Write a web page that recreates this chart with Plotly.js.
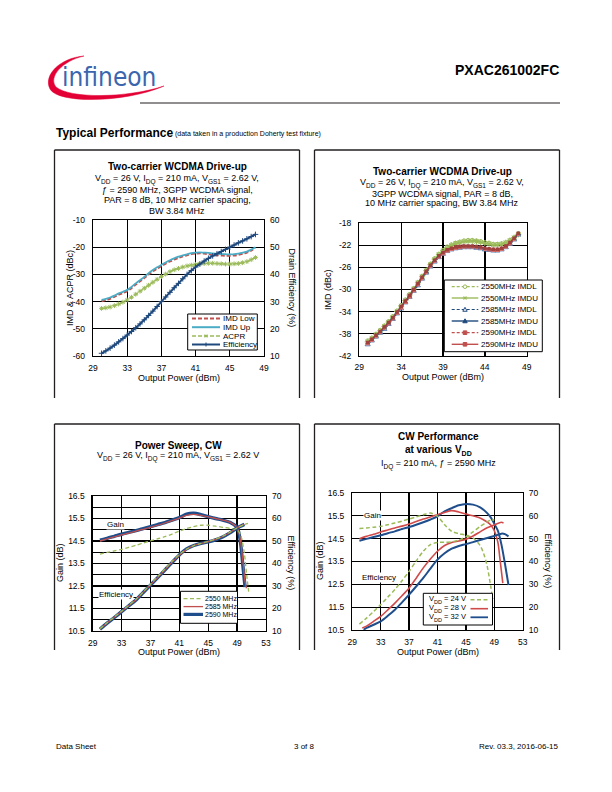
<!DOCTYPE html>
<html><head><meta charset="utf-8">
<script src="https://cdn.plot.ly/plotly-3.0.1.min.js"></script>
<style>html,body{margin:0;padding:0;background:#fff}#chart{width:612px;height:792px}</style>
</head><body><div id="chart"></div>
<script>
// ---------- Chart 1: Two-carrier WCDMA drive-up (IMD / ACPR / Efficiency) ----------
const power1 = [30,30.5,31,31.5,32,32.5,33,33.5,34,34.5,35,35.5,36,36.5,37,37.5,38,38.5,39,39.5,40,40.5,41,41.5,42,42.5,43,43.5,44,44.5,45,45.5,46,46.5,47,47.5,48];
const imdLow1 = [-39.8,-39.4,-38.9,-38.2,-37.4,-36.8,-36.1,-35.0,-33.7,-32.5,-31.3,-30.0,-28.8,-27.8,-26.9,-26.0,-25.2,-24.5,-23.9,-23.3,-22.9,-22.5,-22.3,-22.2,-22.3,-22.5,-22.7,-22.9,-23.0,-23.1,-23.1,-23.0,-22.8,-22.4,-21.9,-21.2,-20.3];
const imdUp1 = [-39.4,-39.0,-38.5,-37.8,-37.0,-36.4,-35.7,-34.6,-33.3,-32.1,-30.9,-29.6,-28.4,-27.4,-26.5,-25.6,-24.8,-24.1,-23.5,-23.0,-22.6,-22.2,-22.0,-21.9,-22.0,-22.1,-22.3,-22.4,-22.5,-22.6,-22.6,-22.6,-22.4,-22.0,-21.6,-20.9,-20.0];
const acpr1 = [-42.5,-42.3,-42.0,-41.5,-40.9,-40.2,-39.4,-38.4,-37.3,-36.2,-35.1,-34.0,-32.9,-31.8,-30.8,-29.9,-29.0,-28.3,-27.8,-27.3,-26.9,-26.6,-26.3,-26.1,-26.0,-25.9,-25.9,-26.0,-26.1,-26.2,-26.2,-26.1,-26.0,-25.7,-25.3,-24.6,-23.8];
const eff1 = [11.0,11.9,12.9,14.0,15.2,16.4,17.7,19.0,20.4,21.8,23.3,24.9,26.5,28.2,30.0,31.7,33.4,35.1,36.7,38.4,40.0,41.4,42.7,43.8,44.9,45.9,46.8,47.6,48.4,49.2,50.0,50.8,51.6,52.3,53.1,53.9,54.7];

// ---------- Chart 2: IMD at three frequencies ----------
const power2 = [30,30.5,31,31.5,32,32.5,33,33.5,34,34.5,35,35.5,36,36.5,37,37.5,38,38.5,39,39.5,40,40.5,41,41.5,42,42.5,43,43.5,44,44.5,45,45.5,46,46.5,47,47.5,48];
const imdl2550 = [-39.3,-38.8,-38.1,-37.4,-36.6,-35.8,-34.9,-33.9,-32.9,-31.9,-30.9,-29.8,-28.7,-27.6,-26.5,-25.4,-24.4,-23.6,-22.9,-22.3,-21.9,-21.6,-21.4,-21.2,-21.1,-21.1,-21.2,-21.3,-21.5,-21.6,-21.8,-21.8,-21.7,-21.5,-21.1,-20.6,-19.9];
const imdu2550 = [-39.5,-38.9,-38.2,-37.5,-36.7,-35.9,-35.0,-34.0,-33.0,-32.0,-31.0,-29.9,-28.8,-27.7,-26.6,-25.5,-24.5,-23.7,-23.0,-22.4,-22.0,-21.7,-21.5,-21.3,-21.2,-21.2,-21.3,-21.4,-21.6,-21.7,-21.9,-21.9,-21.8,-21.5,-21.1,-20.6,-20.0];
const imdl2585 = [-40.0,-39.3,-38.6,-37.9,-37.2,-36.3,-35.4,-34.4,-33.5,-32.4,-31.4,-30.3,-29.3,-28.1,-27.0,-25.9,-25.0,-24.2,-23.6,-23.1,-22.8,-22.6,-22.5,-22.4,-22.4,-22.4,-22.5,-22.6,-22.8,-22.9,-23.0,-23.0,-22.8,-22.4,-21.8,-21.0,-20.1];
const imdu2585 = [-39.7,-39.1,-38.4,-37.7,-36.9,-36.1,-35.2,-34.2,-33.2,-32.2,-31.2,-30.1,-29.0,-27.9,-26.8,-25.7,-24.8,-24.0,-23.4,-22.9,-22.6,-22.4,-22.3,-22.2,-22.2,-22.2,-22.3,-22.4,-22.6,-22.7,-22.8,-22.8,-22.6,-22.2,-21.6,-20.8,-19.9];
const imdl2590 = [-39.8,-39.2,-38.5,-37.8,-37.0,-36.2,-35.3,-34.3,-33.3,-32.3,-31.3,-30.2,-29.1,-28.0,-26.9,-25.8,-24.9,-24.1,-23.5,-23.0,-22.7,-22.5,-22.4,-22.3,-22.3,-22.3,-22.4,-22.5,-22.7,-22.8,-22.9,-22.9,-22.7,-22.3,-21.7,-20.9,-20.0];
const imdu2590 = [-39.6,-39.0,-38.3,-37.6,-36.8,-36.0,-35.1,-34.1,-33.1,-32.1,-31.1,-30.0,-28.9,-27.8,-26.7,-25.6,-24.7,-23.9,-23.3,-22.8,-22.5,-22.3,-22.2,-22.1,-22.1,-22.1,-22.2,-22.3,-22.5,-22.6,-22.7,-22.7,-22.5,-22.1,-21.5,-20.7,-19.8];

// ---------- Chart 3: Power sweep, CW ----------
const p3g2590 = [30,31,32,33,34,35,36,37,38,39,40,41,42,43,44,45,46,47,48,49,49.25,49.5,49.8,50.1];
const gain3_2590 = [14.54,14.62,14.71,14.80,14.88,14.96,15.05,15.14,15.23,15.32,15.43,15.54,15.69,15.73,15.67,15.58,15.50,15.43,15.33,15.10,14.85,14.35,13.40,12.45];
const p3g2585 = [30,31,32,33,34,35,36,37,38,39,40,41,42,43,44,45,46,47,48,49,49.25,49.5,49.8,50.1,50.3];
const gain3_2585 = [14.50,14.59,14.68,14.77,14.85,14.94,15.02,15.11,15.20,15.30,15.41,15.52,15.64,15.68,15.64,15.57,15.50,15.43,15.34,15.10,14.88,14.45,13.60,12.70,12.40];
const p3g2550 = [30,31,32,33,34,35,36,37,38,39,40,41,42,43,44,45,46,47,48,49,49.5,50,50.3,50.6];
const gain3_2550 = [13.92,13.99,14.06,14.13,14.22,14.31,14.41,14.51,14.60,14.69,14.81,14.94,15.05,15.14,15.20,15.20,15.16,15.11,15.06,14.99,14.75,13.95,13.06,12.25];
const p3e = [30,31,32,33,34,35,36,37,38,39,40,41,42,43,44,45,46,47,48,49,50];
const eff3_2590 = [10.8,13.5,16.0,18.6,21.2,23.8,27.1,30.4,33.7,37.1,40.5,43.8,46.5,48.0,48.9,49.6,50.5,51.8,53.6,55.8,57.4];
const eff3_2585 = [10.9,13.6,16.1,18.7,21.3,23.9,27.2,30.5,33.8,37.2,40.6,43.7,46.3,47.9,48.9,49.7,50.7,52.0,53.8,55.9,57.5];
const p3e2550 = [30,31,32,33,34,35,36,37,38,39,40,41,42,43,44,45,46,47,48,49,50,50.5];
const eff3_2550 = [11.0,13.7,16.2,18.8,21.4,24.1,27.4,30.8,34.2,37.6,41.0,44.0,46.4,47.9,48.9,49.8,50.8,52.1,53.9,55.8,57.3,57.8];

// ---------- Chart 4: CW performance at various VDD ----------
const p4g24 = [30,31,32,33,34,35,36,37,38,39,40,41,42,43,44,45,46,47,47.5,48,48.5,48.8];
const gain4_24 = [14.94,14.97,15.00,15.04,15.11,15.19,15.27,15.36,15.45,15.55,15.62,15.48,15.11,14.82,14.72,14.65,14.53,14.20,13.85,13.30,12.40,11.85];
const p4g28 = [30,31,32,33,34,35,36,37,38,39,40,41,42,43,44,45,46,47,48,48.5,49,49.5,49.8,50.2];
const gain4_28 = [14.50,14.60,14.69,14.79,14.88,14.97,15.05,15.14,15.25,15.36,15.45,15.55,15.65,15.73,15.67,15.58,15.50,15.41,15.23,15.10,14.85,14.35,13.60,12.55];
const p4g32 = [30,31,32,33,34,35,36,37,38,39,40,41,42,43,44,45,46,47,48,48.5,49,49.5,50,50.5,51];
const gain4_32 = [14.41,14.49,14.57,14.65,14.74,14.82,14.92,15.01,15.11,15.22,15.34,15.48,15.70,15.84,15.96,16.02,15.99,15.87,15.62,15.43,15.15,14.85,14.25,13.40,12.47];
const p4e24 = [30,31,32,33,34,35,36,37,38,39,40,41,42,43,44,45,46,47,48,48.5,49];
const eff4_24 = [12.6,15.2,18.1,21.1,24.4,27.7,31.6,35.7,40.2,44.5,47.4,48.3,48.4,48.6,49.4,50.8,53.0,55.3,57.4,58.1,58.3];
const p4e28 = [30.4,31,32,33,34,35,36,37,38,39,40,41,42,43,44,45,46,47,48,49,50,50.3];
const eff4_28 = [10.9,11.7,13.8,16.0,18.8,21.8,25.0,28.4,32.7,37.2,41.1,44.5,47.0,48.3,49.0,49.8,51.2,53.0,54.8,56.0,57.2,56.8];
const p4e32 = [30.6,31,32,33,34,35,36,37,38,39,40,41,42,43,44,45,46,47,48,49,50,50.5,51];
const eff4_32 = [10.1,10.9,12.3,13.8,16.2,18.9,22.1,25.5,29.1,32.8,36.9,40.8,43.6,45.6,46.8,47.6,48.5,49.4,50.3,51.2,52.2,52.0,51.0];

// tick labels
const ticks1L = [-60,-50,-40,-30,-20,-10];
const ticks1R = [10,20,30,40,50,60];
const ticks2 = [-42,-38,-34,-30,-26,-22,-18];
const ticksGain = [10.5,11.5,12.5,13.5,14.5,15.5,16.5];
const ticksEff = [10,20,30,40,50,60,70];

// ---------- layout helpers ----------
const W = 612, H = 792;
const F = 'Liberation Sans, Arial, Helvetica, sans-serif';
const X = p => p / W, Y = p => 1 - p / H;
const RED = '#C0504D', CYAN = '#4BACC6', GREEN = '#9BBB59', NAVY = '#1F497D', BLUE = '#1F4E8C';
// subscript as a shifted, smaller span
const sub = (t, fs) => '<span style="font-size:' + fs + 'px;baseline-shift:-2.5px">' + t + '</span>';

function L(x0,y0,x1,y1,color,width,dash){return {type:'line',xref:'paper',yref:'paper',x0:X(x0),y0:Y(y0),x1:X(x1),y1:Y(y1),line:{color:color,width:width,dash:dash||'solid'},layer:'above'};}
function R(x0,y0,x1,y1,color,width,fill){return {type:'rect',xref:'paper',yref:'paper',x0:X(x0),y0:Y(y1),x1:X(x1),y1:Y(y0),line:{color:color,width:width},fillcolor:fill||'rgba(0,0,0,0)',layer:'above'};}
function C(cx,cy,r,color,fill){return {type:'circle',xref:'paper',yref:'paper',x0:X(cx-r),x1:X(cx+r),y0:Y(cy+r),y1:Y(cy-r),line:{color:color,width:1},fillcolor:fill,layer:'above'};}
function pt(x,y){return X(x).toFixed(5)+','+Y(y).toFixed(5);}
function P(d,color,fill,width){return {type:'path',xref:'paper',yref:'paper',path:d,line:{color:color,width:width||1},fillcolor:fill,layer:'above'};}
function tri(cx,cy,s,color,fill){return P('M'+pt(cx-s,cy+s*0.8)+' L'+pt(cx+s,cy+s*0.8)+' L'+pt(cx,cy-s)+' Z',color,fill,1);}
function sq(cx,cy,s,color){return R(cx-s,cy-s,cx+s,cy+s,color,1,color);}
function star(cx,cy,s,color){return [L(cx-s,cy,cx+s,cy,color,1),L(cx-s*0.6,cy-s*0.8,cx+s*0.6,cy+s*0.8,color,1),L(cx-s*0.6,cy+s*0.8,cx+s*0.6,cy-s*0.8,color,1)];}
function T(x,y,text,size,o){return Object.assign({xref:'paper',yref:'paper',x:X(x),y:Y(y),text:text,showarrow:false,font:{family:F,size:size,color:'#000'},xanchor:'center',yanchor:'middle',borderpad:0},o||{});}

const tickFont = {family:F,size:8.5,color:'#000'};
function axBase(extra){return Object.assign({showgrid:true,gridcolor:'#000',gridwidth:1.3,showline:true,mirror:true,linecolor:'#000',linewidth:1.3,zeroline:false,ticks:'',tickfont:tickFont,fixedrange:true,ticklabelstandoff:3},extra);}
function rightAx(over,anchor,range,vals){return {overlaying:over,anchor:anchor,side:'right',range:range,tickvals:vals,ticktext:vals.map(String),showgrid:false,showline:false,zeroline:false,ticks:'',tickfont:tickFont,fixedrange:true,ticklabelstandoff:5};}

const d1x=[93/W,264/W], d1y=[1-356/H,1-220/H];
const d2x=[359.3/W,526.7/W], d2y=[1-355.7/H,1-223.3/H];
const d3x=[92.7/W,266/W], d3y=[1-631/H,1-496/H];
const d4x=[352.3/W,522.7/W], d4y=[1-630/H,1-493/H];

const layout = {
  width:W, height:H, margin:{l:0,r:0,t:0,b:0}, autosize:false,
  paper_bgcolor:'#fff', plot_bgcolor:'#fff', showlegend:false,
  xaxis: axBase({domain:d1x,anchor:'y',range:[29,49],tick0:29,dtick:4}),
  yaxis: axBase({domain:d1y,anchor:'x',range:[-60,-10],tickvals:ticks1L,ticktext:ticks1L.map(String),ticklabelstandoff:5}),
  yaxis2: rightAx('y','x',[10,60],ticks1R),
  xaxis2: axBase({domain:d2x,anchor:'y3',range:[29,49],tick0:29,dtick:5}),
  yaxis3: axBase({domain:d2y,anchor:'x2',range:[-42,-18],tickvals:ticks2,ticktext:ticks2.map(String),ticklabelstandoff:5}),
  xaxis3: axBase({domain:d3x,anchor:'y4',range:[29,53],tick0:29,dtick:4}),
  yaxis4: axBase({domain:d3y,anchor:'x3',range:[10.5,16.5],tickvals:ticksGain,ticktext:ticksGain.map(v=>v.toFixed(1)),ticklabelstandoff:5,minor:{tick0:10.5,dtick:0.5,showgrid:true,gridcolor:'#000',gridwidth:1.3,ticks:''}}),
  yaxis5: rightAx('y4','x3',[10,70],ticksEff),
  xaxis4: axBase({domain:d4x,anchor:'y6',range:[29,53],tick0:29,dtick:4}),
  yaxis6: axBase({domain:d4y,anchor:'x4',range:[10.5,16.5],tickvals:ticksGain,ticktext:ticksGain.map(v=>v.toFixed(1)),ticklabelstandoff:5}),
  yaxis7: rightAx('y6','x4',[10,70],ticksEff),
  shapes:[], annotations:[]
};

const S = layout.shapes, A = layout.annotations;
// page frames
const frame = '#231f20';
S.push(L(140,103,560,103,frame,1.2));
S.push(L(54.5,150,299.5,150,frame,1.3), L(54.5,150,54.5,398,frame,1.3), L(299.5,150,299.5,398,frame,1.3));
S.push(L(314.5,150,559.5,150,frame,1.3), L(314.5,150,314.5,398,frame,1.3), L(559.5,150,559.5,398,frame,1.3));
S.push(L(54.5,424,299.5,424,frame,1.3), L(54.5,424,54.5,650,frame,1.3), L(299.5,424,299.5,650,frame,1.3));
S.push(L(314.5,424,559.5,424,frame,1.3), L(314.5,424,314.5,650,frame,1.3), L(559.5,424,559.5,650,frame,1.3));

// logo swoosh (crescent, thick at lower left)
S.push(P('M'+pt(84,56)+' C'+pt(60,58)+' '+pt(43,75)+' '+pt(50,89)+' C'+pt(58,104)+' '+pt(125,103)+' '+pt(164,86)+
  ' C'+pt(128,98)+' '+pt(70,99)+' '+pt(56,87)+' C'+pt(48,77)+' '+pt(62,61)+' '+pt(84,56)+' Z','#E30034','#E30034',0.5));
A.push(T(109,77,'infineon',26,{font:{family:'DejaVu Sans Condensed, Liberation Sans Narrow, Liberation Sans, sans-serif',size:26,color:'#3B66AE'}}));

// header / footer text
A.push(T(560,69.5,'<b>PXAC261002FC</b>',14,{xanchor:'right'}));
A.push(T(54.5,133,'<b>Typical Performance</b>',12,{xanchor:'left'}));
A.push(T(174,133.5,'(data taken in a production Doherty test fixture)',7,{xanchor:'left'}));
A.push(T(54.5,746,'Data Sheet',8,{xanchor:'left'}));
A.push(T(304.5,746,'3 of 8',8));
A.push(T(560,746,'Rev. 03.3, 2016-06-15',8,{xanchor:'right'}));

// chart titles
A.push(T(177,166.5,'<b>Two-carrier WCDMA Drive-up</b>',10));
A.push(T(177,179,'V'+sub('DD',6.5)+' = 26 V, I'+sub('DQ',6.5)+' = 210 mA, V'+sub('GS1',6.5)+' = 2.62 V,',9));
A.push(T(177,189.5,'ƒ = 2590 MHz, 3GPP WCDMA signal,',9));
A.push(T(177,200,'PAR = 8 dB, 10 MHz carrier spacing,',9));
A.push(T(177,210.5,'BW 3.84 MHz',9));

A.push(T(442,171.5,'<b>Two-carrier WCDMA Drive-up</b>',10));
A.push(T(442,183.5,'V'+sub('DD',6.5)+' = 26 V, I'+sub('DQ',6.5)+' = 210 mA, V'+sub('GS1',6.5)+' = 2.62 V,',9));
A.push(T(442,193.5,'3GPP WCDMA signal, PAR = 8 dB,',9));
A.push(T(442,203.5,'10 MHz carrier spacing, BW 3.84 MHz',9));

A.push(T(178,445,'<b>Power Sweep, CW</b>',10));
A.push(T(178,456,'V'+sub('DD',6.5)+' = 26 V, I'+sub('DQ',6.5)+' = 210 mA, V'+sub('GS1',6.5)+' = 2.62 V',9));

A.push(T(438,444.3,'<b>CW Performance<br>at various V'+sub('DD',7)+'</b>',10));
A.push(T(438,464.2,'I'+sub('DQ',6.5)+' = 210 mA, ƒ = 2590 MHz',9));

// axis titles
A.push(T(178.5,378.3,'Output Power (dBm)',9));
A.push(T(70,288,'IMD &amp; ACPR (dBc)',9,{textangle:-90}));
A.push(T(291.5,288,'Drain Efficiency (%)',9,{textangle:90}));
A.push(T(443,376.7,'Output Power (dBm)',9));
A.push(T(328.5,289.5,'IMD (dBc)',9,{textangle:-90}));
A.push(T(179,652,'Output Power (dBm)',9));
A.push(T(60,563,'Gain (dB)',9,{textangle:-90}));
A.push(T(290.5,563,'Efficiency (%)',9,{textangle:90}));
A.push(T(437.5,652,'Output Power (dBm)',9));
A.push(T(320,561,'Gain (dB)',9,{textangle:-90}));
A.push(T(547.5,561,'Efficiency (%)',9,{textangle:90}));

// in-plot labels
A.push(T(115,524.3,'Gain',8,{bgcolor:'#fff'}));
A.push(T(115.5,594.3,'Efficiency',8,{bgcolor:'#fff'}));
A.push(T(372.5,515,'Gain',8,{bgcolor:'#fff'}));
A.push(T(378.7,577.3,'Efficiency',8,{bgcolor:'#fff'}));

// legend chart 1
S.push(R(187.7,314,257.3,350,'#000',1,'#fff'));
const lg1 = [318.5,327.2,336,344.5];
S.push(L(192,lg1[0],220,lg1[0],RED,2.2,'4px,2px'));
S.push(L(192,lg1[1],220,lg1[1],CYAN,2));
S.push(L(192,lg1[2],220,lg1[2],GREEN,1.5,'4px,2px')); S.push(...star(206,lg1[2],2,GREEN));
S.push(L(192,lg1[3],220,lg1[3],NAVY,2)); S.push(L(206,lg1[3]-2,206,lg1[3]+2,NAVY,1));
['IMD Low','IMD Up','ACPR','Efficiency'].forEach((t,i)=>A.push(T(222,lg1[i],t,8,{xanchor:'left'})));

// legend chart 2
S.push(R(444.3,280,542.3,351.7,'#000',1,'#fff'));
const lg2 = [286.7,298,309.5,321,332.7,344.3];
S.push(L(451.7,lg2[0],478.3,lg2[0],GREEN,1.2,'3px,2px')); S.push(C(465,lg2[0],1.8,GREEN,'#fff'));
S.push(L(451.7,lg2[1],478.3,lg2[1],GREEN,1.4)); S.push(...star(465,lg2[1],2.2,GREEN));
S.push(L(451.7,lg2[2],478.3,lg2[2],NAVY,1.2,'3px,2px')); S.push(tri(465,lg2[2],2.2,NAVY,'#fff'));
S.push(L(451.7,lg2[3],478.3,lg2[3],NAVY,1.4)); S.push(tri(465,lg2[3],2.2,NAVY,NAVY));
S.push(L(451.7,lg2[4],478.3,lg2[4],RED,1.2,'3px,2px')); S.push(sq(465,lg2[4],1.8,RED));
S.push(L(451.7,lg2[5],478.3,lg2[5],RED,1.4)); S.push(sq(465,lg2[5],1.8,RED));
['2550MHz IMDL','2550MHz IMDU','2585MHz IMDL','2585MHz IMDU','2590MHz IMDL','2590MHz IMDU'].forEach((t,i)=>A.push(T(480,lg2[i],t,8,{xanchor:'left'})));

// legend chart 3
S.push(R(180.5,591.3,237.5,623.3,'#000',1,'#fff'));
const lg3 = [598.6,606.6,614.4];
S.push(L(183.5,lg3[0],203,lg3[0],GREEN,1.3,'4px,2.5px'));
S.push(L(183.5,lg3[1],203,lg3[1],RED,1.3));
S.push(L(183.5,lg3[2],203,lg3[2],BLUE,3.2));
['2550 MHz','2585 MHz','2590 MHz'].forEach((t,i)=>A.push(T(204,lg3[i],t,7,{xanchor:'left'})));

// legend chart 4
S.push(R(423.3,593.3,492.5,625,'#000',1,'#fff'));
const lg4 = [599.8,608.7,617.3];
S.push(L(470.5,lg4[0],488,lg4[0],GREEN,1.5,'4px,2.5px'));
S.push(L(470.5,lg4[1],488,lg4[1],'#D04A4A',1.6));
S.push(L(470.5,lg4[2],488,lg4[2],BLUE,1.8));
['24','28','32'].forEach((v,i)=>A.push(T(427.5,lg4[i],'V'+sub('DD',5.5)+' = '+v+' V',7.5,{xanchor:'left'})));

// ---------- traces ----------
const sp = {shape:'spline',smoothing:0.8};
const traces = [
  // chart 1
  {x:power1,y:acpr1,xaxis:'x',yaxis:'y',mode:'lines+markers',line:Object.assign({color:GREEN,width:1.5,dash:'4px,2px'},sp),marker:{symbol:'asterisk-open',size:4,line:{color:GREEN,width:1}}},
  {x:power1,y:imdLow1,xaxis:'x',yaxis:'y',mode:'lines',line:Object.assign({color:RED,width:2.2,dash:'4px,2px'},sp)},
  {x:power1,y:imdUp1,xaxis:'x',yaxis:'y',mode:'lines',line:Object.assign({color:CYAN,width:1.8},sp)},
  {x:power1,y:eff1,xaxis:'x',yaxis:'y2',mode:'lines+markers',line:Object.assign({color:NAVY,width:2},sp),marker:{symbol:'cross-thin-open',size:4,line:{color:NAVY,width:1}}},
  // chart 2
  {x:power2,y:imdl2550,xaxis:'x2',yaxis:'y3',mode:'lines+markers',line:Object.assign({color:GREEN,width:1.1,dash:'3px,2px'},sp),marker:{symbol:'circle-open',size:4,color:GREEN,line:{width:1}}},
  {x:power2,y:imdu2550,xaxis:'x2',yaxis:'y3',mode:'lines+markers',line:Object.assign({color:GREEN,width:1.2},sp),marker:{symbol:'asterisk-open',size:5,line:{color:GREEN,width:1}}},
  {x:power2,y:imdl2585,xaxis:'x2',yaxis:'y3',mode:'lines+markers',line:Object.assign({color:NAVY,width:1.1,dash:'3px,2px'},sp),marker:{symbol:'triangle-up-open',size:4.5,color:'#5B7FB0',line:{width:1}}},
  {x:power2,y:imdu2585,xaxis:'x2',yaxis:'y3',mode:'lines+markers',line:Object.assign({color:NAVY,width:1.2},sp),marker:{symbol:'triangle-up',size:4.5,color:NAVY}},
  {x:power2,y:imdl2590,xaxis:'x2',yaxis:'y3',mode:'lines+markers',line:Object.assign({color:RED,width:1.1,dash:'3px,2px'},sp),marker:{symbol:'square',size:3.5,color:'#D66F6C'}},
  {x:power2,y:imdu2590,xaxis:'x2',yaxis:'y3',mode:'lines+markers',line:Object.assign({color:'#A0403D',width:1.2},sp),marker:{symbol:'square',size:3.5,color:'#A0403D'}},
  // chart 3
  {x:p3e,y:eff3_2590,xaxis:'x3',yaxis:'y5',mode:'lines',line:Object.assign({color:BLUE,width:3.4},sp)},
  {x:p3g2590,y:gain3_2590,xaxis:'x3',yaxis:'y4',mode:'lines',line:Object.assign({color:BLUE,width:3.4},sp)},
  {x:p3e,y:eff3_2585,xaxis:'x3',yaxis:'y5',mode:'lines',line:Object.assign({color:RED,width:1.3},sp)},
  {x:p3g2585,y:gain3_2585,xaxis:'x3',yaxis:'y4',mode:'lines',line:Object.assign({color:RED,width:1.3},sp)},
  {x:p3e2550,y:eff3_2550,xaxis:'x3',yaxis:'y5',mode:'lines',line:Object.assign({color:GREEN,width:1.3,dash:'4px,2.5px'},sp)},
  {x:p3g2550,y:gain3_2550,xaxis:'x3',yaxis:'y4',mode:'lines',line:Object.assign({color:GREEN,width:1.3,dash:'4px,2.5px'},sp)},
  // chart 4
  {x:p4g32,y:gain4_32,xaxis:'x4',yaxis:'y6',mode:'lines',line:Object.assign({color:BLUE,width:2},sp)},
  {x:p4e32,y:eff4_32,xaxis:'x4',yaxis:'y7',mode:'lines',line:Object.assign({color:BLUE,width:2},sp)},
  {x:p4g28,y:gain4_28,xaxis:'x4',yaxis:'y6',mode:'lines',line:Object.assign({color:'#D04A4A',width:1.6},sp)},
  {x:p4e28,y:eff4_28,xaxis:'x4',yaxis:'y7',mode:'lines',line:Object.assign({color:'#D04A4A',width:1.6},sp)},
  {x:p4g24,y:gain4_24,xaxis:'x4',yaxis:'y6',mode:'lines',line:Object.assign({color:GREEN,width:1.5,dash:'4px,2.5px'},sp)},
  {x:p4e24,y:eff4_24,xaxis:'x4',yaxis:'y7',mode:'lines',line:Object.assign({color:GREEN,width:1.5,dash:'4px,2.5px'},sp)}
];

Plotly.newPlot('chart', traces, layout, {displayModeBar:false, staticPlot:true});
</script></body></html>
